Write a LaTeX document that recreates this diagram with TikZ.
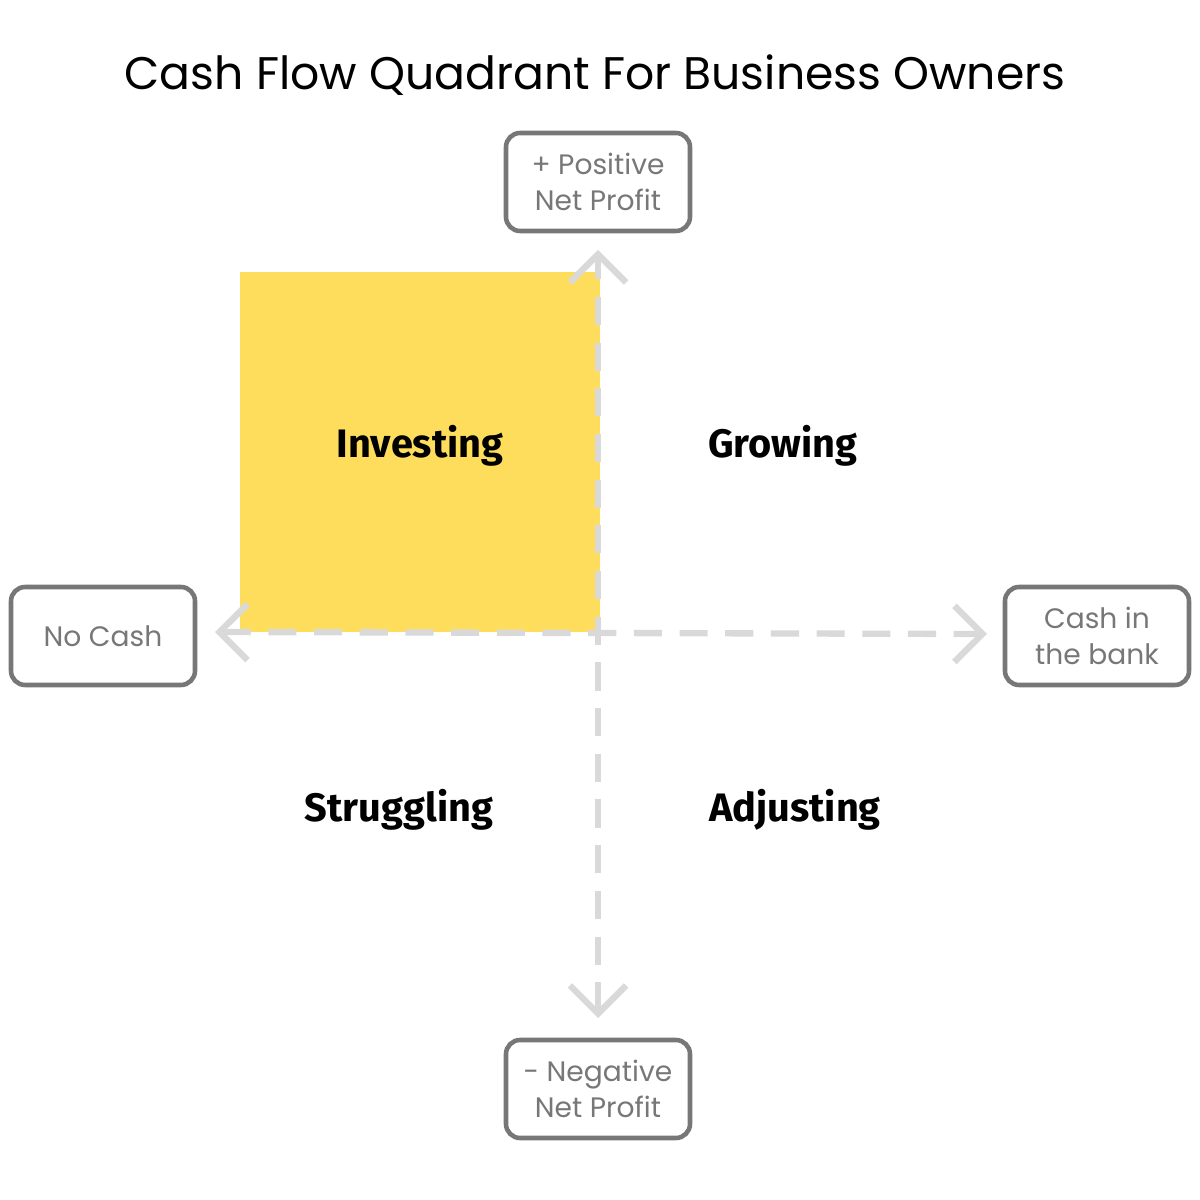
\documentclass[tikz,border=0pt]{standalone}
\usepackage{fontspec}
\setmainfont{Poppins}
\newfontfamily\labelfont{Fira Sans}
\usetikzlibrary{arrows.meta,positioning}
\definecolor{boxgray}{RGB}{119,119,119}
\definecolor{axisgray}{RGB}{217,217,217}
\definecolor{quadyellow}{RGB}{254,221,92}
\begin{document}
\begin{tikzpicture}[
    axisbox/.style={rectangle,draw=boxgray,line width=1.3pt,rounded corners=4pt,align=center,
      minimum width=1.84cm,minimum height=0.98cm,text=boxgray,font=\fontsize{8}{10.3}\selectfont},
    quad/.style={font=\labelfont\bfseries\fontsize{11.3}{13}\selectfont},
    axis/.style={axisgray,line width=1.8pt,dash pattern=on 8pt off 5pt,
      {Straight Barb[length=8pt,width=16pt,line width=1.8pt]}-{Straight Barb[length=8pt,width=16pt,line width=1.8pt]}}]
    \useasboundingbox (0,0) rectangle (12,12);
    \fill[quadyellow] (2.40,9.28) rectangle (6.00,5.68);

    \node[font=\fontsize{13}{16}\selectfont] (title) at (5.95,11.25) {Cash Flow Quadrant For Business Owners};

    \node[axisbox] (pos) at (5.98,10.18) {+ Positive\\Net Profit};
    \node[axisbox] (neg) at (5.98,1.11) {- Negative\\Net Profit};
    \node[axisbox] (nocash) at (1.03,5.64) {No Cash};
    \node[axisbox] (bank) at (10.97,5.64) {Cash in\\the bank};

    % axes
    \coordinate (top) at (5.98,9.50);
    \coordinate (bottom) at (5.98,1.82);
    \coordinate (left) at (2.15,5.68);
    \coordinate (right) at (9.87,5.66);
    \draw[axis] (bottom) -- (top);
    \draw[axis] (left) -- (right);

    % quadrants
    \node[quad] (investing) at (4.20,7.54) {Investing};
    \node[quad] (growing) at (7.83,7.54) {Growing};
    \node[quad] (struggling) at (3.99,3.90) {Struggling};
    \node[quad] (adjusting) at (7.95,3.90) {Adjusting};
\end{tikzpicture}
\end{document}
